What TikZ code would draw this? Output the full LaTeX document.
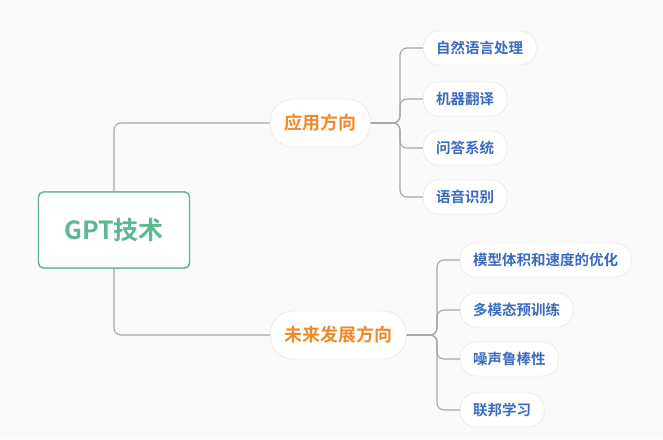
\documentclass[tikz,border=0pt]{standalone}
\usepackage{fontspec}
\newfontfamily\cjk{Noto Sans CJK SC}[BoldFont={Noto Sans CJK SC Bold}]
\definecolor{leafblue}{HTML}{3A6BBF}
\definecolor{midorange}{HTML}{EE8A2A}
\definecolor{rootgreen}{HTML}{5DB88E}
\begin{document}
\begin{tikzpicture}[x=1pt,y=-1pt,
  conn/.style={draw=black!35,line width=1.1pt,rounded corners=7pt},
  rootn/.style={draw=rootgreen,line width=1.4pt,fill=white,rounded corners=5pt,minimum width=151pt,minimum height=76pt,font=\cjk\bfseries\fontsize{25}{28}\selectfont,text=rootgreen},
  leaf/.style={draw=black!10,fill=white,rounded corners=16pt,minimum height=34pt,inner xsep=13pt,font=\cjk\bfseries\fontsize{14.5}{16}\selectfont,text=leafblue,anchor=west},
  mid/.style={draw=black!10,fill=white,rounded corners=23pt,minimum height=48pt,inner xsep=14pt,font=\cjk\bfseries\fontsize{18}{20}\selectfont,text=midorange,anchor=west}]
\fill[black!2] (0,0) rectangle (663,439);
\useasboundingbox (0,0) rectangle (663,439);
\node[rootn] (root) at (114,230) {\phantom{GPT技术}};
\node[mid] (app) at (270,123) {应用方向};
\node[mid] (fut) at (270,335) {未来发展方向};
\node[leaf] (a1) at (423,48) {自然语言处理};
\node[leaf] (a2) at (423,99) {机器翻译};
\node[leaf] (a3) at (423,148) {问答系统};
\node[leaf] (a4) at (423,197) {语音识别};
\node[leaf] (b1) at (460,260) {模型体积和速度的优化};
\node[leaf] (b2) at (460,310) {多模态预训练};
\node[leaf] (b3) at (460,359) {噪声鲁棒性};
\node[leaf] (b4) at (460,410) {联邦学习};
\coordinate (ja) at (400,123);
\coordinate (jb) at (437,335);
\draw[conn] (root.north) |- (app.west);
\draw[conn] (root.south) |- (fut.west);
\foreach \l in {a1,a2,a3,a4}{\draw[conn] (app.east) -- (ja) |- (\l.west);}
\foreach \l in {b1,b2,b3,b4}{\draw[conn] (fut.east) -- (jb) |- (\l.west);}
\node[rootn] at (root) {GPT技术};
\foreach \n/\t in {app/应用方向,fut/未来发展方向}{\node[mid,anchor=center] at (\n) {\t};}
\foreach \n/\t in {a1/自然语言处理,a2/机器翻译,a3/问答系统,a4/语音识别,b1/模型体积和速度的优化,b2/多模态预训练,b3/噪声鲁棒性,b4/联邦学习}{\node[leaf,anchor=center] at (\n) {\t};}
\end{tikzpicture}
\end{document}
